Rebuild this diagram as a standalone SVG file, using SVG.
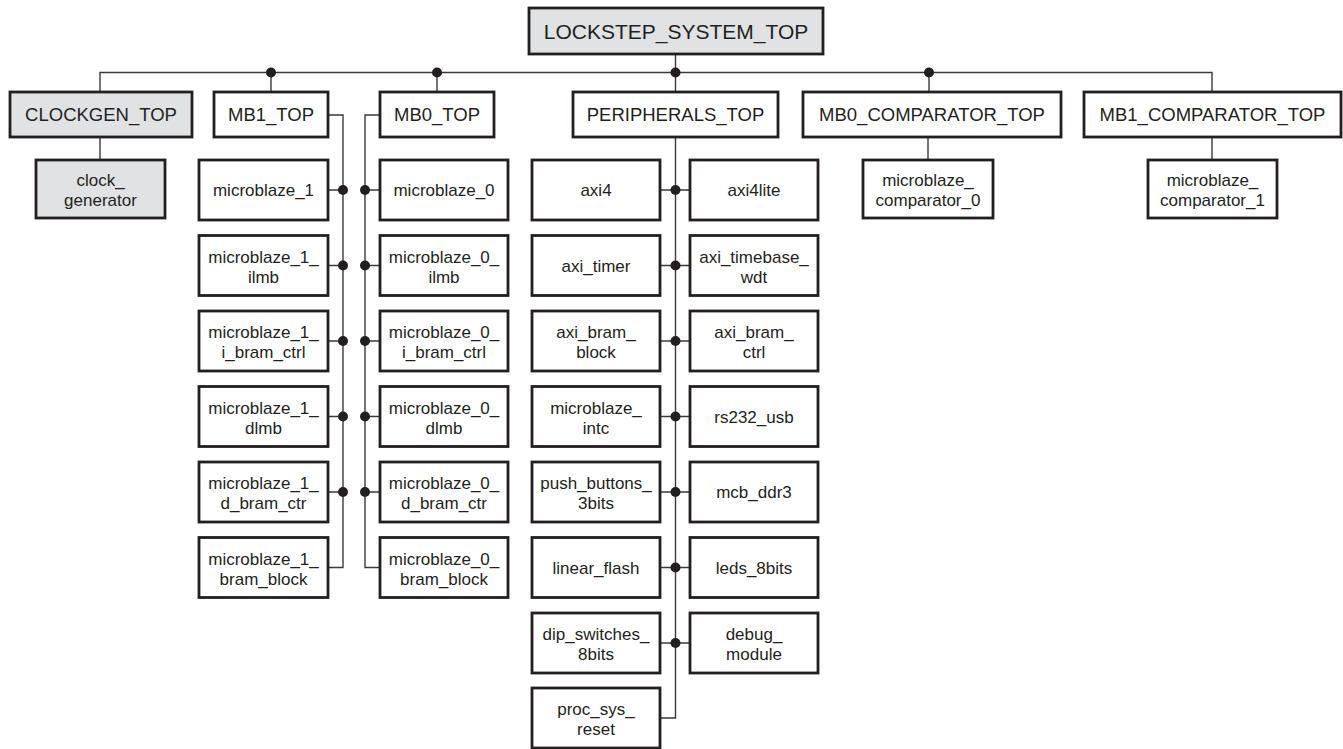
<svg xmlns="http://www.w3.org/2000/svg" width="1343" height="749" viewBox="0 0 1343 749">
<style>
.b{fill:#fff;stroke:#231f20;stroke-width:2.8}
.g{fill:#e1e2e4;stroke:#231f20;stroke-width:2.8}
.t{font-family:"Liberation Sans",Arial,sans-serif;font-size:17px;fill:#231f20;text-anchor:middle}
.h{font-family:"Liberation Sans",Arial,sans-serif;font-size:18.5px;fill:#231f20;text-anchor:middle}
.c{fill:none;stroke:#3a3a3a;stroke-width:1.4}
.d{fill:#231f20}
</style>
<rect width="1343" height="749" fill="#fff"/>
<g id="connectors">
<path class="c" d="M675.5,54 V92 M100,92 V72.5 H1212 V92 M271,72.5 V92 M437,72.5 V92 M929,72.5 V92"/>
<path class="c" d="M100,137 V160 M928,137 V160 M1212,137 V160"/>
<path class="c" d="M328,115 H343 V567.5 H328 M328,190 H343 M328,265.5 H343 M328,341 H343 M328,416.5 H343 M328,492 H343"/>
<path class="c" d="M380,115 H365 V567.5 H380 M365,190 H380 M365,265.5 H380 M365,341 H380 M365,416.5 H380 M365,492 H380"/>
<path class="c" d="M675.5,137 V718 H660 M660,190 H690 M660,265.5 H690 M660,341 H690 M660,416.5 H690 M660,492 H690 M660,567.5 H690 M660,643 H690"/>
<g class="d">
<circle cx="271" cy="72.5" r="5"/><circle cx="437" cy="72.5" r="5"/><circle cx="675.5" cy="72.5" r="5"/><circle cx="929" cy="72.5" r="5"/>
<circle cx="343" cy="190" r="5"/><circle cx="343" cy="265.5" r="5"/><circle cx="343" cy="341" r="5"/><circle cx="343" cy="416.5" r="5"/><circle cx="343" cy="492" r="5"/>
<circle cx="365" cy="190" r="5"/><circle cx="365" cy="265.5" r="5"/><circle cx="365" cy="341" r="5"/><circle cx="365" cy="416.5" r="5"/><circle cx="365" cy="492" r="5"/>
<circle cx="675.5" cy="190" r="5"/><circle cx="675.5" cy="265.5" r="5"/><circle cx="675.5" cy="341" r="5"/><circle cx="675.5" cy="416.5" r="5"/><circle cx="675.5" cy="492" r="5"/><circle cx="675.5" cy="567.5" r="5"/><circle cx="675.5" cy="643" r="5"/>
</g>
</g>
<g id="root"><rect class="g" x="529" y="8" width="294" height="46"/><text class="h" style="font-size:21px" x="676" y="38.5">LOCKSTEP_SYSTEM_TOP</text></g>
<g id="clockgen_top"><rect class="g" x="10" y="92" width="182" height="45"/><text class="h" x="101" y="121">CLOCKGEN_TOP</text></g>
<g id="mb1_top"><rect class="b" x="214" y="92" width="114" height="45"/><text class="h" x="271" y="121">MB1_TOP</text></g>
<g id="mb0_top"><rect class="b" x="380" y="92" width="114" height="45"/><text class="h" x="437" y="121">MB0_TOP</text></g>
<g id="peripherals_top"><rect class="b" x="573" y="92" width="205" height="45"/><text class="h" x="675.5" y="121">PERIPHERALS_TOP</text></g>
<g id="mb0_comparator_top"><rect class="b" x="803" y="92" width="258" height="45"/><text class="h" x="932" y="121">MB0_COMPARATOR_TOP</text></g>
<g id="mb1_comparator_top"><rect class="b" x="1084" y="92" width="257" height="45"/><text class="h" x="1212.5" y="121">MB1_COMPARATOR_TOP</text></g>

<g id="clock_generator"><rect class="g" x="36" y="160" width="129" height="58"/><text class="t" x="100.5" y="186">clock_</text><text class="t" x="100.5" y="206">generator</text></g>
<g id="microblaze_comparator_0"><rect class="b" x="863" y="160" width="130" height="58"/><text class="t" x="928" y="186">microblaze_</text><text class="t" x="928" y="206">comparator_0</text></g>
<g id="microblaze_comparator_1"><rect class="b" x="1148" y="160" width="129" height="58"/><text class="t" x="1212.5" y="186">microblaze_</text><text class="t" x="1212.5" y="206">comparator_1</text></g>

<g id="microblaze_1"><rect class="b" x="199" y="160" width="129" height="60"/><text class="t" x="263.5" y="196">microblaze_1</text></g>
<g id="microblaze_1_ilmb"><rect class="b" x="199" y="235.5" width="129" height="60"/><text class="t" x="263.5" y="262.5">microblaze_1_</text><text class="t" x="263.5" y="282.5">ilmb</text></g>
<g id="microblaze_1_i_bram_ctrl"><rect class="b" x="199" y="311" width="129" height="60"/><text class="t" x="263.5" y="338">microblaze_1_</text><text class="t" x="263.5" y="358">i_bram_ctrl</text></g>
<g id="microblaze_1_dlmb"><rect class="b" x="199" y="386.5" width="129" height="60"/><text class="t" x="263.5" y="413.5">microblaze_1_</text><text class="t" x="263.5" y="433.5">dlmb</text></g>
<g id="microblaze_1_d_bram_ctr"><rect class="b" x="199" y="462" width="129" height="60"/><text class="t" x="263.5" y="489">microblaze_1_</text><text class="t" x="263.5" y="509">d_bram_ctr</text></g>
<g id="microblaze_1_bram_block"><rect class="b" x="199" y="537.5" width="129" height="60"/><text class="t" x="263.5" y="564.5">microblaze_1_</text><text class="t" x="263.5" y="584.5">bram_block</text></g>

<g id="microblaze_0"><rect class="b" x="380" y="160" width="128" height="60"/><text class="t" x="444" y="196">microblaze_0</text></g>
<g id="microblaze_0_ilmb"><rect class="b" x="380" y="235.5" width="128" height="60"/><text class="t" x="444" y="262.5">microblaze_0_</text><text class="t" x="444" y="282.5">ilmb</text></g>
<g id="microblaze_0_i_bram_ctrl"><rect class="b" x="380" y="311" width="128" height="60"/><text class="t" x="444" y="338">microblaze_0_</text><text class="t" x="444" y="358">i_bram_ctrl</text></g>
<g id="microblaze_0_dlmb"><rect class="b" x="380" y="386.5" width="128" height="60"/><text class="t" x="444" y="413.5">microblaze_0_</text><text class="t" x="444" y="433.5">dlmb</text></g>
<g id="microblaze_0_d_bram_ctr"><rect class="b" x="380" y="462" width="128" height="60"/><text class="t" x="444" y="489">microblaze_0_</text><text class="t" x="444" y="509">d_bram_ctr</text></g>
<g id="microblaze_0_bram_block"><rect class="b" x="380" y="537.5" width="128" height="60"/><text class="t" x="444" y="564.5">microblaze_0_</text><text class="t" x="444" y="584.5">bram_block</text></g>

<g id="axi4"><rect class="b" x="532" y="160" width="128" height="60"/><text class="t" x="596" y="196">axi4</text></g>
<g id="axi_timer"><rect class="b" x="532" y="235.5" width="128" height="60"/><text class="t" x="596" y="271.5">axi_timer</text></g>
<g id="axi_bram_block"><rect class="b" x="532" y="311" width="128" height="60"/><text class="t" x="596" y="338">axi_bram_</text><text class="t" x="596" y="358">block</text></g>
<g id="microblaze_intc"><rect class="b" x="532" y="386.5" width="128" height="60"/><text class="t" x="596" y="413.5">microblaze_</text><text class="t" x="596" y="433.5">intc</text></g>
<g id="push_buttons_3bits"><rect class="b" x="532" y="462" width="128" height="60"/><text class="t" x="596" y="489">push_buttons_</text><text class="t" x="596" y="509">3bits</text></g>
<g id="linear_flash"><rect class="b" x="532" y="537.5" width="128" height="60"/><text class="t" x="596" y="573.5">linear_flash</text></g>
<g id="dip_switches_8bits"><rect class="b" x="532" y="613" width="128" height="60"/><text class="t" x="596" y="640">dip_switches_</text><text class="t" x="596" y="660">8bits</text></g>
<g id="proc_sys_reset"><rect class="b" x="532" y="688" width="128" height="60"/><text class="t" x="596" y="715">proc_sys_</text><text class="t" x="596" y="735">reset</text></g>

<g id="axi4lite"><rect class="b" x="690" y="160" width="128" height="60"/><text class="t" x="754" y="196">axi4lite</text></g>
<g id="axi_timebase_wdt"><rect class="b" x="690" y="235.5" width="128" height="60"/><text class="t" x="754" y="262.5">axi_timebase_</text><text class="t" x="754" y="282.5">wdt</text></g>
<g id="axi_bram_ctrl"><rect class="b" x="690" y="311" width="128" height="60"/><text class="t" x="754" y="338">axi_bram_</text><text class="t" x="754" y="358">ctrl</text></g>
<g id="rs232_usb"><rect class="b" x="690" y="386.5" width="128" height="60"/><text class="t" x="754" y="422.5">rs232_usb</text></g>
<g id="mcb_ddr3"><rect class="b" x="690" y="462" width="128" height="60"/><text class="t" x="754" y="498">mcb_ddr3</text></g>
<g id="leds_8bits"><rect class="b" x="690" y="537.5" width="128" height="60"/><text class="t" x="754" y="573.5">leds_8bits</text></g>
<g id="debug_module"><rect class="b" x="690" y="613" width="128" height="60"/><text class="t" x="754" y="640">debug_</text><text class="t" x="754" y="660">module</text></g>
</svg>
